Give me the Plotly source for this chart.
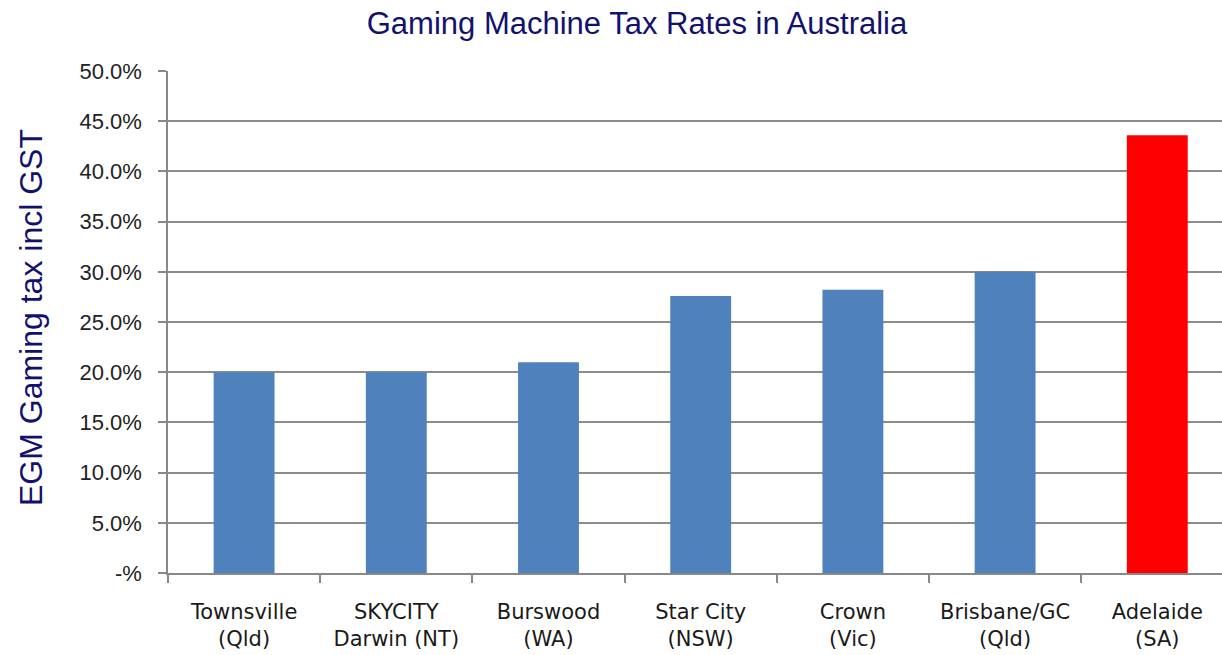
import plotly.graph_objects as go

categories = ["Townsville<br>(Qld)", "SKYCITY<br>Darwin (NT)", "Burswood<br>(WA)", "Star City<br>(NSW)",
              "Crown<br>(Vic)", "Brisbane/GC<br>(Qld)", "Adelaide<br>(SA)"]
values = [20.0, 20.0, 21.0, 27.6, 28.2, 30.0, 43.6]
colors = ["#4F81BD"] * 6 + ["#FF0000"]
tick_vals = [0, 5, 10, 15, 20, 25, 30, 35, 40, 45, 50]
tick_text = ["-%", "5.0%", "10.0%", "15.0%", "20.0%", "25.0%", "30.0%", "35.0%", "40.0%", "45.0%", "50.0%"]

W, H = 1222, 655
L, R, T, B = 168, 0, 71, 82
plot_w = W - L - R
cat_px = 152.2
NAVY = "#12126E"

fig = go.Figure(go.Bar(
    x=categories, y=values, marker=dict(color=colors, line=dict(width=0)),
    width=0.4,
))

fig.update_layout(
    width=W, height=H,
    margin=dict(l=L, r=R, t=T, b=B),
    paper_bgcolor="white", plot_bgcolor="white",
    showlegend=False,
    title=dict(text="Gaming Machine Tax Rates in Australia", x=637 / W, xref="container", xanchor="center",
               y=1 - 23 / H, yref="container", yanchor="middle",
               font=dict(family="Arial, Liberation Sans", size=31, color=NAVY)),
    xaxis=dict(
        type="category",
        range=[-0.5, -0.5 + plot_w / cat_px],
        showgrid=False, showline=True, linecolor="#888888", linewidth=1.5,
        ticks="outside", ticklen=8, tickcolor="#888888", tickwidth=1.5,
        tickson="boundaries", ticklabelstandoff=19,
        tickfont=dict(family="DejaVu Sans", size=21, color="#1A1A1A"),
        fixedrange=True,
    ),
    yaxis=dict(
        range=[0, 50], tickmode="array", tickvals=tick_vals, ticktext=tick_text,
        showgrid=True, gridcolor="#8C8C8C", gridwidth=1.5,
        showline=True, linecolor="#888888", linewidth=1.5,
        ticks="outside", ticklen=8, tickcolor="#888888", tickwidth=1.5,
        ticklabelstandoff=12,
        tickfont=dict(family="Arial, Liberation Sans", size=22, color="#222222"),
        zeroline=False,
    ),
    annotations=[dict(
        text="EGM Gaming tax incl GST", textangle=-90, xref="paper", yref="paper",
        x=(31 - L) / plot_w, y=1 - (318 - T) / (655 - T - B),
        xanchor="center", yanchor="middle", showarrow=False,
        font=dict(family="Arial, Liberation Sans", size=32, color=NAVY),
    )],
)

fig.write_html("out.html")
